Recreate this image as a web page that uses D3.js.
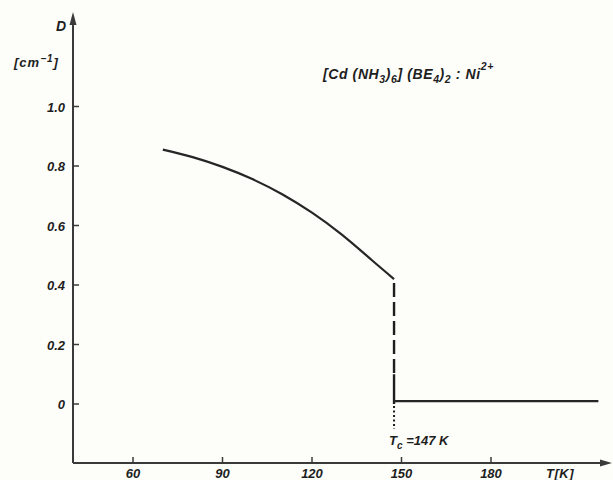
<!DOCTYPE html>
<html><head><meta charset="utf-8">
<script src="https://cdn.jsdelivr.net/npm/d3@7"></script>
<style>body{margin:0;background:#fdfdf9}svg{display:block}text{font-family:"Liberation Sans",Arial,sans-serif;font-style:italic;font-weight:bold;fill:#1e1e1e}</style>
</head><body>
<script>
// Data
const curveT = [70, 80, 90, 100, 110, 120, 130, 140, 147.5];
const curveD = [0.855, 0.830, 0.797, 0.756, 0.705, 0.643, 0.569, 0.484, 0.42];
const flatT = [147.5, 216];
const flatD = [0.01, 0.01];
const Tc = 147.5;
const xTicks = [60, 90, 120, 150, 180];
const yTicks = [0, 0.2, 0.4, 0.6, 0.8, 1.0];
const yTickLabels = ["0", "0.2", "0.4", "0.6", "0.8", "1.0"];

const W = 613, H = 480;
const svg = d3.select("body").append("svg").attr("width", W).attr("height", H);
const x = d3.scaleLinear().domain([60, 180]).range([133, 491]);
const y = d3.scaleLinear().domain([0, 1]).range([404, 106.5]);
const ax0 = 73, ay0 = 463;

// axes lines
const axCol = "#3a3a3a";
svg.append("line").attr("x1", ax0).attr("x2", 604).attr("y1", ay0).attr("y2", ay0).attr("stroke", axCol).attr("stroke-width", 2);
svg.append("path").attr("d", `M612,${ay0} L600,${ay0-3.5} L600,${ay0+3.5} Z`).attr("fill", axCol);
svg.append("line").attr("x1", ax0).attr("x2", ax0).attr("y1", ay0).attr("y2", 22).attr("stroke", axCol).attr("stroke-width", 2);
svg.append("path").attr("d", `M${ax0},12 L${ax0-3.5},25 L${ax0+3.5},25 Z`).attr("fill", axCol);

// x ticks
const xg = svg.append("g");
xg.selectAll("line").data(xTicks).join("line")
  .attr("x1", d => x(d)).attr("x2", d => x(d)).attr("y1", ay0).attr("y2", ay0 - 6)
  .attr("stroke", axCol).attr("stroke-width", 1.5);
xg.selectAll("text").data(xTicks).join("text")
  .attr("x", d => x(d)).attr("y", 478).attr("text-anchor", "middle").attr("font-size", 13)
  .text(d => d);

// y ticks
const yg = svg.append("g");
yg.selectAll("line").data(yTicks).join("line")
  .attr("x1", ax0).attr("x2", ax0 + 6).attr("y1", d => y(d)).attr("y2", d => y(d))
  .attr("stroke", axCol).attr("stroke-width", 1.5);
yg.selectAll("text").data(yTicks).join("text")
  .attr("x", 65).attr("y", d => y(d) + 5).attr("text-anchor", "end").attr("font-size", 13)
  .text((d, i) => yTickLabels[i]);

// curve
const curvePts = curveT.map((t, i) => [t, curveD[i]]);
svg.append("path").datum(curvePts)
  .attr("d", d3.line().x(d => x(d[0])).y(d => y(d[1])).curve(d3.curveNatural))
  .attr("fill", "none").attr("stroke", "#262626").attr("stroke-width", 2.2);

// dashed transition line
const xc = x(Tc);
svg.append("line").attr("x1", xc).attr("x2", xc).attr("y1", y(curveD[curveD.length - 1]) + 4).attr("y2", y(0.1))
  .attr("stroke", "#1e1e1e").attr("stroke-width", 2.4).attr("stroke-dasharray", "14,5");
svg.append("line").attr("x1", xc).attr("x2", xc).attr("y1", y(0.1)).attr("y2", y(0))
  .attr("stroke", "#1e1e1e").attr("stroke-width", 2.4);
// dotted below
svg.append("line").attr("x1", xc).attr("x2", xc).attr("y1", y(0) + 2).attr("y2", y(0) + 25)
  .attr("stroke", "#1e1e1e").attr("stroke-width", 2).attr("stroke-dasharray", "2,2.5");

// flat line
const flatPts = flatT.map((t, i) => [t, flatD[i]]);
svg.append("path").datum(flatPts)
  .attr("d", d3.line().x(d => x(d[0])).y(d => y(d[1])))
  .attr("fill", "none").attr("stroke", "#262626").attr("stroke-width", 2.2);

// labels
svg.append("text").attr("x", 56).attr("y", 31).attr("font-size", 14).text("D");
const cm = svg.append("text").attr("x", 14).attr("y", 67).attr("font-size", 13).attr("letter-spacing", 1);
cm.append("tspan").text("[cm");
cm.append("tspan").attr("dy", -5).attr("font-size", 10).text("−1");
cm.append("tspan").attr("dy", 5).text("]");

const ti = svg.append("text").attr("x", 323).attr("y", 79).attr("font-size", 14).attr("letter-spacing", 0.6);
ti.append("tspan").text("[Cd (NH");
ti.append("tspan").attr("dy", 4).attr("font-size", 10.5).text("3");
ti.append("tspan").attr("dy", -4).text(")");
ti.append("tspan").attr("dy", 4).attr("font-size", 10.5).text("6");
ti.append("tspan").attr("dy", -4).text("] (BE");
ti.append("tspan").attr("dy", 4).attr("font-size", 10.5).text("4");
ti.append("tspan").attr("dy", -4).text(")");
ti.append("tspan").attr("dy", 4).attr("font-size", 10.5).text("2");
ti.append("tspan").attr("dy", -4).text(" : Ni");
ti.append("tspan").attr("dy", -9).attr("font-size", 10.5).text("2+");

const tc = svg.append("text").attr("x", 389).attr("y", 445).attr("font-size", 13);
tc.append("tspan").text("T");
tc.append("tspan").attr("dy", 4).attr("font-size", 10).text("c");
tc.append("tspan").attr("dy", -4).text(" =147 K");

svg.append("text").attr("x", 546).attr("y", 478).attr("font-size", 13).attr("letter-spacing", 0.5).text("T[K]");
</script>
</body></html>
